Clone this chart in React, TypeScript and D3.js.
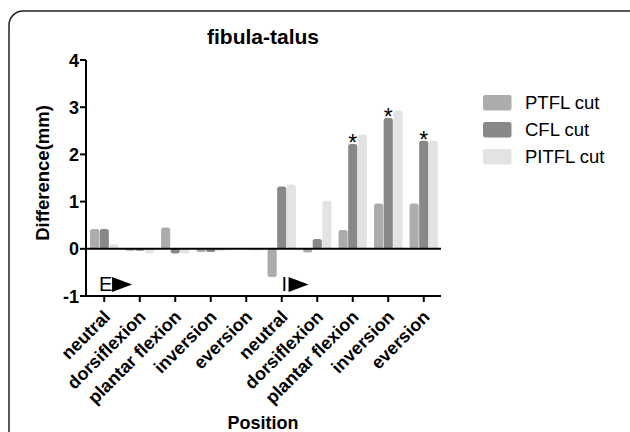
import React from "react";
import * as d3 from "d3";

const categories = ["neutral", "dorsiflexion", "plantar flexion", "inversion", "eversion", "neutral ", "dorsiflexion ", "plantar flexion ", "inversion ", "eversion "];
const categoryLabels = ["neutral", "dorsiflexion", "plantar flexion", "inversion", "eversion", "neutral", "dorsiflexion", "plantar flexion", "inversion", "eversion"];
const seriesNames = ["PTFL cut", "CFL cut", "PITFL cut"];
const seriesColors = ["#acacac", "#888888", "#e3e3e3"];
const ptfl = [0.42, -0.04, 0.45, -0.07, 0, -0.6, -0.08, 0.4, 0.96, 0.96];
const cfl = [0.42, -0.04, -0.1, -0.07, 0, 1.32, 0.21, 2.22, 2.77, 2.29];
const pitfl = [0.1, -0.1, -0.1, -0.05, -0.03, 1.36, 1.02, 2.42, 2.93, 2.29];
const significant = [false, false, false, false, false, false, false, true, true, true];
const yTicks = [-1, 0, 1, 2, 3, 4];
const markers = [{ label: "E", at: 0 }, { label: "I", at: 5 }];

const FONT = "'Liberation Sans', Arial, Helvetica, sans-serif";

export default function App() {
  const W = 630, H = 432;
  const x0 = d3.scaleBand<string>().domain(categories).range([86.5, 441.5]).paddingInner(0.2).paddingOuter(0.1);
  const x1 = d3.scaleBand<string>().domain(seriesNames).range([0, x0.bandwidth()]).paddingInner(0.05);
  const y = d3.scaleLinear().domain([-1, 4]).range([296, 60]);
  const series = [ptfl, cfl, pitfl];
  const axisX = 86;
  const axisY = y(-1);
  const xEnd = 441;

  return (
    <div style={{ position: "fixed", left: 0, top: 0 }}>
      <svg width={W} height={H} style={{ display: "block", background: "#fff" }}>
        <rect x={9} y={11} width={640} height={460} rx={14} fill="none" stroke="#222" strokeWidth={1.5} />
        <text x={263} y={44} textAnchor="middle" fontFamily={FONT} fontWeight="bold" fontSize={21}>fibula-talus</text>

        {/* bars */}
        {categories.map((c, i) => (
          <g key={c} transform={`translate(${x0(c)},0)`}>
            {series.map((s, j) => {
              const v = s[i];
              if (v === 0) return null;
              const top = y(Math.max(0, v));
              const bot = y(Math.min(0, v));
              return (
                <rect key={j} x={x1(seriesNames[j])} y={top} width={x1.bandwidth()} height={Math.max(0.5, bot - top)} rx={2.5} fill={seriesColors[j]} />
              );
            })}
            {significant[i] && (
              <text x={(x1(seriesNames[1]) as number) + x1.bandwidth() / 2} y={y(cfl[i]) + 7} textAnchor="middle" fontFamily={FONT} fontSize={23}>*</text>
            )}
          </g>
        ))}

        {/* zero line */}
        <line x1={axisX} x2={xEnd} y1={y(0)} y2={y(0)} stroke="#000" strokeWidth={2} />

        {/* y axis */}
        <line x1={axisX} x2={axisX} y1={y(4)} y2={axisY + 1} stroke="#000" strokeWidth={2} />
        {yTicks.map((t) => (
          <g key={t}>
            <line x1={axisX - 6} x2={axisX} y1={y(t)} y2={y(t)} stroke="#000" strokeWidth={2} />
            <text x={axisX - 7} y={y(t) + 6.5} textAnchor="end" fontFamily={FONT} fontWeight="bold" fontSize={18}>{t}</text>
          </g>
        ))}
        <text transform={`translate(49,173) rotate(-90)`} textAnchor="middle" fontFamily={FONT} fontWeight="bold" fontSize={18.5}>Difference(mm)</text>

        {/* x axis */}
        <line x1={axisX - 1} x2={xEnd} y1={axisY} y2={axisY} stroke="#000" strokeWidth={2} />
        {categories.map((c, i) => {
          const cx = (x0(c) as number) + x0.bandwidth() / 2;
          return (
            <g key={c}>
              <line x1={cx} x2={cx} y1={axisY} y2={axisY + 6} stroke="#000" strokeWidth={2} />
              <text transform={`translate(${cx + 7},${axisY + 22}) rotate(-45)`} textAnchor="end" fontFamily={FONT} fontWeight="bold" fontSize={18}>{categoryLabels[i]}</text>
            </g>
          );
        })}
        <text x={263} y={429} textAnchor="middle" fontFamily={FONT} fontWeight="bold" fontSize={18}>Position</text>

        {/* E / I markers */}
        {markers.map((m) => {
          const bx = x0(categories[m.at]) as number;
          const isE = m.label === "E";
          const tx = isE ? bx + 9 : bx + 14;
          const triX = isE ? bx + 22 : bx + 21;
          return (
            <g key={m.label}>
              <text x={tx} y={291} fontFamily={FONT} fontSize={20}>{m.label}</text>
              <path d={`M${triX},277 L${triX + 20},284.5 L${triX},292 Z`} fill="#000" />
            </g>
          );
        })}

        {/* legend */}
        {seriesNames.map((n, j) => (
          <g key={n} transform={`translate(483,${95 + j * 27})`}>
            <rect x={0} y={0} width={28.5} height={15.5} rx={2.5} fill={seriesColors[j]} />
            <text x={42} y={14} fontFamily={FONT} fontSize={18.5}>{n}</text>
          </g>
        ))}
      </svg>
    </div>
  );
}
